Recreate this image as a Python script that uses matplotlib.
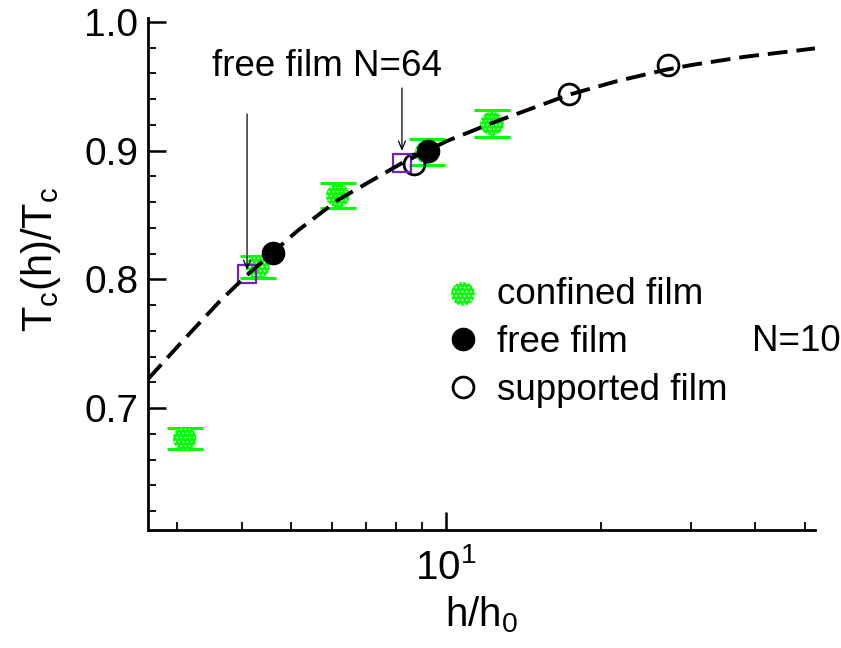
import matplotlib
matplotlib.use("Agg")
import matplotlib.pyplot as plt
from matplotlib.ticker import MultipleLocator, NullFormatter, FormatStrFormatter, LogLocator

plt.rcParams['font.family'] = ['Liberation Sans', 'DejaVu Sans']
plt.rcParams['mathtext.fontset'] = 'custom'
plt.rcParams['mathtext.rm'] = 'Liberation Sans'
plt.rcParams['mathtext.it'] = 'Liberation Sans:italic'
plt.rcParams['hatch.linewidth'] = 0.7

# confined film (with error bars)
conf_x = [3.10, 4.30, 6.16, 9.18, 12.29]
conf_y = [0.6764, 0.8096, 0.8652, 0.8990, 0.9211]
conf_err = [0.0082, 0.0085, 0.0097, 0.0101, 0.0105]

# free film
free_x = [4.60, 9.23]
free_y = [0.8205, 0.8998]

# supported film
supp_x = [8.66, 17.36, 27.05]
supp_y = [0.8897, 0.9441, 0.9666]

# free film N=64
n64_x = [4.10, 8.21]
n64_y = [0.8040, 0.8904]

# dashed fit curve
fit_x = [2.63, 3.07, 3.63, 4.10, 5.13, 6.16, 8.21, 10.04, 12.29, 17.36, 21.5, 26.7, 30.1, 38.2,
         48.5, 52.3]
fit_y = [0.7226, 0.7521, 0.7832, 0.8034, 0.8375, 0.8617, 0.8904, 0.9075, 0.9215, 0.9435, 0.9540,
         0.9628, 0.9666, 0.9730, 0.9779, 0.9795]

green = '#00ff00'
purple = '#7221bc'
fs = 26.5

fig = plt.figure(figsize=(8.41, 6.48), dpi=100)
ax = fig.add_axes([148 / 841, 1 - 530 / 648, (815 - 148) / 841, (530 - 18) / 648])

ax.errorbar(conf_x, conf_y, yerr=conf_err, fmt='none', ecolor=green, elinewidth=2,
            capsize=13, capthick=2.2, zorder=2)
h_conf = ax.scatter(conf_x, conf_y, s=17 ** 2, c=green, edgecolors='white', linewidths=0,
                    hatch='....', zorder=3, label='confined film')
h_free, = ax.plot(free_x, free_y, 'o', ms=16, color='black', mec='black', zorder=3,
                  label='free film')
h_supp, = ax.plot(supp_x, supp_y, 'o', ms=15, mfc='none', mec='black', mew=2, zorder=3,
                  label='supported film')
ax.plot(n64_x, n64_y, 's', ms=13.5, mfc='none', mec=purple, mew=1.6, zorder=3)

ax.plot(fit_x, fit_y, '--', color='black', lw=2.8, dashes=(5.1, 2.3), zorder=4)

# arrows to the N=64 points
for ax_x, y0, y1 in [(n64_x[0], 0.9285, 0.8073), (n64_x[1], 0.9487, 0.8998)]:
    ax.annotate('', xy=(ax_x, y1), xytext=(ax_x, y0),
                arrowprops=dict(arrowstyle='->,head_length=0.6,head_width=0.25',
                                color='black', lw=0.9, shrinkA=0, shrinkB=0), zorder=5)
ax.text(3.50, 0.958, 'free film N=64', fontsize=fs, ha='left', va='baseline')
ax.text(39.5, 0.752, 'N=10', fontsize=fs, ha='left', va='center')

ax.set_xscale('log')
ax.set_xlim(2.63, 52.3)
ax.set_ylim(0.6054, 1.0031)
ax.xaxis.set_major_locator(LogLocator(base=10))
ax.xaxis.set_minor_locator(LogLocator(base=10, subs=range(2, 10)))
ax.xaxis.set_minor_formatter(NullFormatter())
ax.yaxis.set_major_locator(MultipleLocator(0.1))
ax.yaxis.set_minor_locator(MultipleLocator(0.02))
ax.yaxis.set_major_formatter(FormatStrFormatter('%.1f'))

for s in ['top', 'right']:
    ax.spines[s].set_visible(False)
for s in ['left', 'bottom']:
    ax.spines[s].set_linewidth(2)

ax.tick_params(which='both', direction='in', top=False, right=False)
ax.tick_params(which='major', length=12.7, width=1.8)
ax.tick_params(which='minor', length=5.8, width=1.3)
ax.tick_params(axis='x', which='major', labelsize=29, pad=13)
ax.tick_params(axis='y', which='major', labelsize=28, pad=7)

ax.set_xlabel(r'h/h$_\mathregular{0}$', fontsize=29, labelpad=5)
ax.set_ylabel(r'T$_\mathregular{c}$(h)/T$_\mathregular{c}$', fontsize=30)
ax.yaxis.set_label_coords(-0.127, 0.528)

ax.legend(handles=[h_conf, h_free, h_supp], loc='upper left', bbox_to_anchor=(0.4445, 0.495),
          frameon=False, fontsize=fs, handlelength=1.0, handletextpad=0.44, labelspacing=0.36,
          borderpad=0, borderaxespad=0, scatterpoints=1, numpoints=1)

fig.savefig('out.png', dpi=100)
